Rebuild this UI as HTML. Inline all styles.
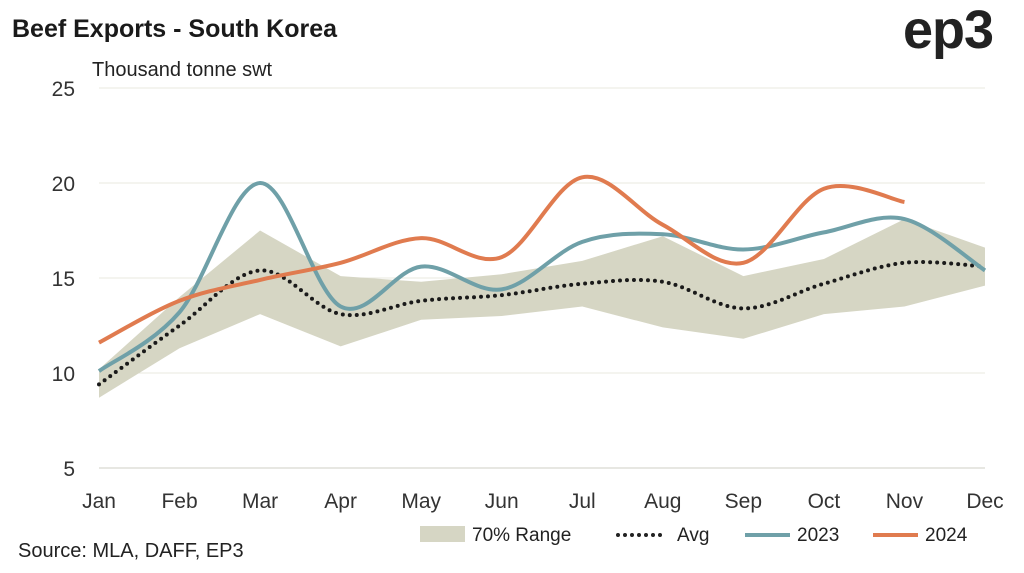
<!DOCTYPE html>
<html><head><meta charset="utf-8"><style>
body{margin:0;background:#fff;font-family:"Liberation Sans",sans-serif}
svg text{font-family:"Liberation Sans",sans-serif}
</style></head><body>
<svg id="c" width="1024" height="568" viewBox="0 0 1024 568">
<text x="12" y="37" font-size="25" font-weight="900" fill="#1a1a1a">Beef Exports - South Korea</text>
<text x="903" y="48" font-size="54" font-weight="900" fill="#222" letter-spacing="-1">ep3</text>
<text x="92" y="76" font-size="20" fill="#222">Thousand tonne swt</text>
<text x="18" y="557" font-size="20" fill="#222">Source: MLA, DAFF, EP3</text>
<g id="grid"></g><g id="plot"></g><g id="axes"></g>
<g>
<rect x="420" y="526" width="45" height="16" fill="#d6d6c4"/>
<text x="472" y="541" font-size="19" fill="#222">70% Range</text>
<line x1="618" y1="535" x2="662" y2="535" stroke="#222" stroke-width="4" stroke-dasharray="0 7" stroke-linecap="round"/>
<text x="677" y="541" font-size="19" fill="#222">Avg</text>
<line x1="745" y1="535" x2="790" y2="535" stroke="#6fa0a8" stroke-width="4"/>
<text x="797" y="541" font-size="19" fill="#222">2023</text>
<line x1="873" y1="535" x2="918" y2="535" stroke="#e07b4f" stroke-width="4"/>
<text x="925" y="541" font-size="19" fill="#222">2024</text>
</g>
</svg>
<script>
const months=["Jan","Feb","Mar","Apr","May","Jun","Jul","Aug","Sep","Oct","Nov","Dec"];
const yTicks=[5,10,15,20,25];
const s2023=[10.1,13.2,20.0,13.5,15.6,14.4,16.9,17.3,16.5,17.4,18.1,15.4];
const s2024=[11.6,13.8,14.9,15.8,17.1,16.1,20.3,17.8,15.8,19.7,19.0];
const avg=[9.4,12.5,15.4,13.1,13.8,14.1,14.7,14.8,13.4,14.7,15.8,15.6];
const rangeHi=[10.2,14.0,17.5,15.1,14.8,15.2,15.9,17.2,15.1,16.0,18.1,16.6];
const rangeLo=[8.7,11.3,13.1,11.4,12.8,13.0,13.5,12.4,11.8,13.1,13.5,14.6];
const NS="http://www.w3.org/2000/svg";
const X=i=>99+i*(985-99)/11, Y=v=>468-(v-5)*19;
function mk(p,t,a){const e=document.createElementNS(NS,t);for(const k in a)e.setAttribute(k,a[k]);document.getElementById(p).appendChild(e);return e;}
yTicks.forEach(v=>{
 const l=mk("grid","line",{x1:99,x2:985,y1:Y(v),y2:Y(v),stroke:v==5?"#cfcfc4":"#e8e8df","stroke-width":1});
 
 
 const t=mk("axes","text",{x:75,y:Y(v)+8,"font-size":21,fill:"#333","text-anchor":"end"});t.textContent=v;
 
 
});
months.forEach((m,i)=>{
 const t=mk("axes","text",{x:X(i),y:508,"font-size":21,fill:"#333","text-anchor":"middle"});t.textContent=m;
 
 
});
let d="M"+rangeHi.map((v,i)=>X(i)+","+Y(v)).join("L");
for(let i=rangeLo.length-1;i>=0;i--)d+="L"+X(i)+","+Y(rangeLo[i]);
const a=mk("plot","path",{d:d+"Z",fill:"#d6d6c4"});


function smooth(vals){const p=vals.map((v,i)=>[X(i),Y(v)]);let s="M"+p[0];for(let i=0;i<p.length-1;i++){const p0=p[i-1]||p[i],p1=p[i],p2=p[i+1],p3=p[i+2]||p2;
 s+="C"+(p1[0]+(p2[0]-p0[0])/6)+","+(p1[1]+(p2[1]-p0[1])/6)+" "+(p2[0]-(p3[0]-p1[0])/6)+","+(p2[1]-(p3[1]-p1[1])/6)+" "+p2[0]+","+p2[1];}return s;}
const la=mk("plot","path",{d:smooth(avg),fill:"none",stroke:"#1a1a1a","stroke-width":4,"stroke-dasharray":"0 7","stroke-linecap":"round"});


const l3=mk("plot","path",{d:smooth(s2023),fill:"none",stroke:"#6fa0a8","stroke-width":4});


const l4=mk("plot","path",{d:smooth(s2024),fill:"none",stroke:"#e07b4f","stroke-width":4});


</script>
</body></html>
